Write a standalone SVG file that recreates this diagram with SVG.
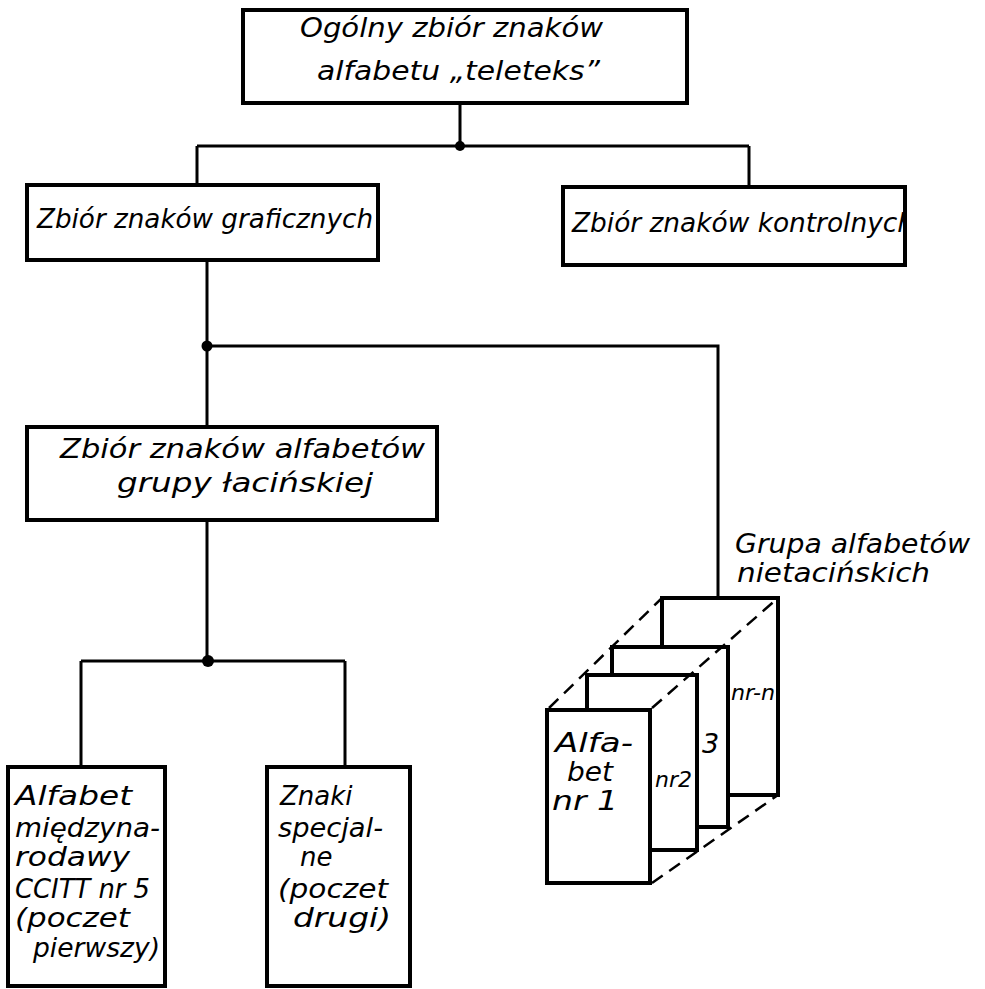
<svg xmlns="http://www.w3.org/2000/svg" width="985" height="989" viewBox="0 0 985 989">
<style>
.box{fill:#fff;stroke:#000;stroke-width:4}
.ln{fill:none;stroke:#000;stroke-width:3}
.dash{fill:none;stroke:#000;stroke-width:2.5;stroke-dasharray:13 8}
.dot{fill:#000}
text{font-family:"DejaVu Sans","Liberation Sans",sans-serif;font-style:italic;font-size:26px;fill:#000}
.st{font-size:26px}
.sm{font-size:22px}
</style>
<defs>
<clipPath id="c3"><rect x="563" y="187" width="340" height="78"/></clipPath>
</defs>
<rect width="985" height="989" fill="#fff"/>
<g id="connectors">
<path class="ln" d="M460 102V146M197 146H749M197 146V185M749 146V187"/>
<path class="ln" d="M207 260V427M207 346H718V598"/>
<path class="ln" d="M207 520V661M81 661H345M81 661V767M345 661V767"/>
<circle class="dot" cx="460" cy="146" r="5"/>
<circle class="dot" cx="207" cy="346" r="5.5"/>
<circle class="dot" cx="208" cy="661" r="6"/>
</g>
<g id="n-top">
<rect class="box" x="243" y="10" width="444" height="93"/>
<text x="300" y="37" textLength="303" lengthAdjust="spacingAndGlyphs">Ogólny zbiór znaków</text>
<text x="317" y="80" textLength="283" lengthAdjust="spacingAndGlyphs">alfabetu „teleteks”</text>
</g>
<g id="n-graf">
<rect class="box" x="27" y="185" width="351" height="75"/>
<text x="37" y="228" textLength="336" lengthAdjust="spacingAndGlyphs">Zbiór znaków graficznych</text>
</g>
<g id="n-kontr">
<rect class="box" x="563" y="187" width="342" height="78"/>
<text x="572" y="232" textLength="342" lengthAdjust="spacingAndGlyphs" clip-path="url(#c3)">Zbiór znaków kontrolnych</text>
</g>
<g id="n-lac">
<rect class="box" x="27" y="427" width="410" height="93"/>
<text x="60" y="458" textLength="365" lengthAdjust="spacingAndGlyphs">Zbiór znaków alfabetów</text>
<text x="117" y="492" textLength="256" lengthAdjust="spacingAndGlyphs">grupy łacińskiej</text>
</g>
<g id="n-ccitt">
<rect class="box" x="8" y="767" width="157" height="219"/>
<text x="15" y="805" textLength="117" lengthAdjust="spacingAndGlyphs">Alfabet</text>
<text x="15" y="837" textLength="145" lengthAdjust="spacingAndGlyphs">międzyna-</text>
<text x="15" y="866" textLength="115" lengthAdjust="spacingAndGlyphs">rodawy</text>
<text x="15" y="898" textLength="135" lengthAdjust="spacingAndGlyphs">CCITT nr 5</text>
<text x="15" y="927" textLength="115" lengthAdjust="spacingAndGlyphs">(poczet</text>
<text x="33" y="957" textLength="127" lengthAdjust="spacingAndGlyphs">pierwszy)</text>
</g>
<g id="n-spec">
<rect class="box" x="267" y="767" width="143" height="219"/>
<text x="280" y="805">Znaki</text>
<text x="278" y="837" textLength="105" lengthAdjust="spacingAndGlyphs">specjal-</text>
<text x="300" y="866">ne</text>
<text x="278" y="898" textLength="110" lengthAdjust="spacingAndGlyphs">(poczet</text>
<text x="293" y="927" textLength="98" lengthAdjust="spacingAndGlyphs">drugi)</text>
</g>
<g id="n-grupa">
<text x="735" y="553" textLength="235" lengthAdjust="spacingAndGlyphs">Grupa alfabetów</text>
<text x="737" y="582" textLength="193" lengthAdjust="spacingAndGlyphs">nietacińskich</text>
</g>
<g id="n-stack">
<rect class="box" x="662" y="598" width="116" height="197"/>
<text x="731" y="700" style="font-size:21px" textLength="44" lengthAdjust="spacingAndGlyphs">nr-n</text>
<rect class="box" x="612" y="647" width="116" height="180"/>
<text x="702" y="753" style="font-size:27px">3</text>
<rect class="box" x="587" y="675" width="110" height="175"/>
<text x="655" y="787" class="sm" textLength="37" lengthAdjust="spacingAndGlyphs">nr2</text>
<rect class="box" x="547" y="710" width="103" height="173"/>
<text x="555" y="752" class="st" textLength="78" lengthAdjust="spacingAndGlyphs">Alfa-</text>
<text x="567" y="781" class="st" textLength="46" lengthAdjust="spacingAndGlyphs">bet</text>
<text x="552" y="810" class="st" textLength="66" lengthAdjust="spacingAndGlyphs">nr 1</text>
<path class="dash" d="M549 708L662 598M652 708L778 598M652 883L778 795"/>
</g>
</svg>
